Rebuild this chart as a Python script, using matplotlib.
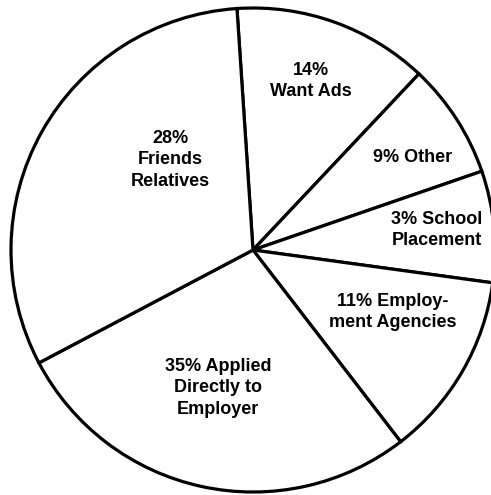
import matplotlib.pyplot as plt

# slice sizes in degrees, as drawn in the picture (clockwise from the top)
labels = ["14%\nWant Ads", "9% Other", "3% School\nPlacement",
          "11% Employ-\nment Agencies", "35% Applied\nDirectly to\nEmployer",
          "28%\nFriends\nRelatives"]
sizes = [47.1, 27.7, 26.8, 44.6, 99.8, 114.0]
label_xy = [(311, 81), (413, 158), (437, 230), (393, 312), (218, 388), (170, 160)]

fig = plt.figure(figsize=(4.91, 4.95), dpi=100)
ax = fig.add_axes([0, 0, 1, 1])

ax.pie(sizes, startangle=93.8, counterclock=False,
       center=(253, 245), radius=242,
       colors=["white"] * len(sizes),
       wedgeprops=dict(edgecolor="black", linewidth=2.3))

for lab, (x, y) in zip(labels, label_xy):
    ax.text(x, 495 - y, lab, ha="center", va="center", fontsize=13,
            family="Liberation Sans", fontweight="bold", linespacing=1.32)

ax.set_xlim(0, 491)
ax.set_ylim(0, 495)
ax.set_aspect("equal")
ax.axis("off")

fig.savefig("out.png", dpi=100)
